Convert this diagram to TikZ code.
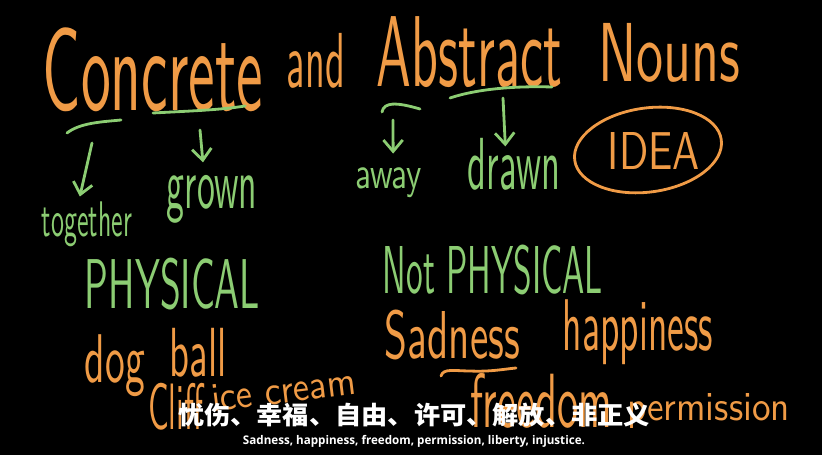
\documentclass[tikz,border=0pt]{standalone}
\usepackage{fontspec}
\usepackage{graphicx}
\usepackage{tikz}
\usetikzlibrary{arrows.meta, calc}
\newfontfamily\cjk{Noto Sans CJK SC}
\newfontfamily\subfont{Open Sans}
\definecolor{chalkorange}{RGB}{240,155,70}
\definecolor{chalkgreen}{RGB}{140,205,115}
\definecolor{boardblack}{RGB}{0,0,0}
\newlength{\pxu}
\setlength{\pxu}{0.02cm}
% squeeze a word into a box of w x h picture units
\newcommand{\scrawl}[3]{\resizebox*{#1\pxu}{#2\pxu}{\sffamily #3}}
\tikzset{
  orangeword/.style={inner sep=0pt, anchor=center, text=chalkorange},
  greenword/.style={inner sep=0pt, anchor=center, text=chalkgreen},
  greenline/.style={draw=chalkgreen, line width=1.6pt, line cap=round},
  orangeline/.style={draw=chalkorange, line width=1.6pt, line cap=round},
  pointer/.style={greenline, -{Straight Barb[length=6.5pt, width=11pt]}},
  subtitle/.style={inner sep=0pt, anchor=center, text=white}
}

\begin{document}
\begin{tikzpicture}[x=0.02cm, y=-0.02cm]
  % Board
  \fill[boardblack] (0,0) rectangle (822,455);
  \useasboundingbox (0,0) rectangle (822,455);

  % Title
  \node[orangeword] (concrete) at (153,70) {\scrawl{220}{84}{Concrete}};
  \node[orangeword] (and) at (316,60.5) {\scrawl{58}{55}{and}};
  \node[orangeword] (abstract) at (469.5,52.5) {\scrawl{185}{71}{Abstract}};
  \node[orangeword] (nouns) at (669,52.5) {\scrawl{142}{59}{Nouns}};

  % Word parts under the title
  \draw[greenline] (67,133) .. controls (80,123) and (100,122) .. (121,120);
  \draw[greenline] (153,113) .. controls (190,111) and (220,110) .. (245,106);
  \draw[greenline] (382,112) .. controls (384,102) and (396,102) .. (420,109);
  \draw[greenline] (450,98) .. controls (480,88) and (520,86) .. (552,87);

  \coordinate (tapcon) at (92,143);
  \coordinate (tapcrete) at (200,130);
  \coordinate (tapab) at (393,120);
  \coordinate (taptract) at (503,98);

  \node[greenword] (together) at (87,224.5) {\scrawl{90}{45}{together}};
  \node[greenword] (grown) at (212,199) {\scrawl{90}{48}{grown}};
  \node[greenword] (away) at (388.5,183) {\scrawl{67}{30}{away}};
  \node[greenword] (drawn) at (514,164) {\scrawl{92}{52}{drawn}};

  \draw[pointer, shorten >=3pt] (tapcon) -- (together.110);
  \draw[pointer, shorten >=7pt] (tapcrete) -- (grown.108);
  \draw[pointer, shorten >=8pt] (tapab) -- (away.73);
  \draw[pointer, shorten >=-5pt] (taptract) -- (drawn.109);

  % Idea
  \node[orangeword] (idea) at (654,151.5) {\scrawl{92}{37}{IDEA}};
  \draw[orangeline, rotate around={8:(648,150)}] (648,150) ellipse [x radius=74, y radius=42];

  % Headings
  \node[greenword] (physical) at (172.5,284) {\scrawl{175}{52}{PHYSICAL}};
  \node[greenword] (notphysical) at (493,270) {\scrawl{220}{50}{Not PHYSICAL}};

  % Concrete examples
  \node[orangeword] (dog) at (115,366) {\scrawl{60}{62}{dog}};
  \node[orangeword] (ball) at (198.5,352.5) {\scrawl{57}{49}{ball}};
  \node[orangeword] (cliff) at (175.5,406.5) {\scrawl{55}{47}{Cliff}};
  \node[orangeword, rotate=7] (icecream) at (283.5,390) {\scrawl{145}{27}{ice cream}};

  % Abstract examples
  \node[orangeword] (sadness) at (452.5,335) {\scrawl{135}{50}{Sadness}};
  \draw[orangeline] (441,376) .. controls (443,368) and (455,371) .. (470,371)
    .. controls (490,372) and (505,369) .. (516,368);
  \node[orangeword] (happiness) at (638,332.5) {\scrawl{150}{65}{happiness}};
  \node[orangeword] (freedom) at (541,400.5) {\scrawl{142}{55}{freedom}};
  \node[orangeword] (permission) at (708.5,410.5) {\scrawl{163}{35}{permission}};

  % Subtitles
  \node[subtitle] (subcn) at (414,415) {\resizebox*{472\pxu}{24\pxu}{\cjk\bfseries 忧伤、幸福、自由、许可、解放、非正义}};
  \node[subtitle] (suben) at (414,441) {\resizebox*{342\pxu}{12\pxu}{\subfont\bfseries Sadness, happiness, freedom, permission, liberty, injustice.}};
\end{tikzpicture}
\end{document}
